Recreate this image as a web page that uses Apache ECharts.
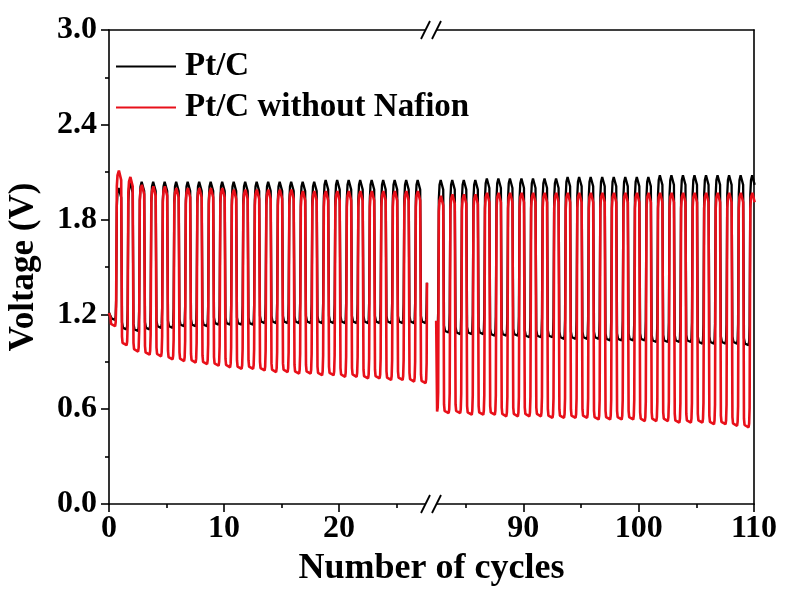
<!DOCTYPE html>
<html>
<head>
<meta charset="utf-8">
<script src="https://cdn.jsdelivr.net/npm/echarts@6/dist/echarts.min.js"></script>
<style>
  html, body { margin: 0; padding: 0; background: #fff; }
  #chart { width: 785px; height: 592px; }
</style>
</head>
<body>
<div id="chart"></div>
<script>
// Galvanostatic charge/discharge cycling, early run (cycles 0-27) and late run (cycles 82-110)
const seriesNames = ['Pt/C', 'Pt/C without Nafion'];

// Early run: first cycle index, voltage at start, last recorded voltage
const earlyFirstCycle = 0;
const earlyStartTime = 0;
const earlyStartPtc = 1.21;
const earlyStartNafion = 1.21;
const earlyEndV = 1.40;

// Per-cycle charge (top) and discharge (bottom) voltages, early run
const ptcChargeEarly = [2.00, 2.03, 2.04, 2.04, 2.04, 2.04, 2.04, 2.04, 2.04, 2.04, 2.04, 2.04, 2.04, 2.04,
  2.04, 2.04, 2.04, 2.04, 2.05, 2.05, 2.05, 2.05, 2.05, 2.05, 2.05, 2.05, 2.05];
const ptcDischargeEarly = [1.17, 1.11, 1.10, 1.11, 1.12, 1.12, 1.13, 1.13, 1.13, 1.14, 1.14, 1.14, 1.14, 1.15,
  1.15, 1.15, 1.15, 1.15, 1.15, 1.15, 1.15, 1.15, 1.15, 1.15, 1.15, 1.15, 1.15, 1.15];
const nafionChargeEarly = [2.11, 2.07, 2.02, 2.01, 2.01, 2.00, 2.00, 2.00, 2.00, 2.00, 1.99, 1.99, 1.99, 1.99,
  1.99, 1.99, 1.98, 1.98, 1.98, 1.98, 1.98, 1.98, 1.98, 1.98, 1.98, 1.98, 1.98];
const nafionDischargeEarly = [1.13, 1.01, 0.97, 0.95, 0.94, 0.92, 0.91, 0.90, 0.89, 0.88, 0.87, 0.86, 0.86, 0.85,
  0.84, 0.84, 0.83, 0.83, 0.82, 0.82, 0.81, 0.81, 0.80, 0.80, 0.79, 0.79, 0.78, 0.77];

// Late run
const lateFirstCycle = 82;
const lateStartTime = 82.45;
const lateStartPtc = 1.13;
const lateStartNafion = 1.16;

const ptcChargeLate = [2.05, 2.05, 2.05, 2.05, 2.06, 2.06, 2.06, 2.06, 2.06, 2.06, 2.06, 2.07, 2.07, 2.07,
  2.07, 2.07, 2.07, 2.07, 2.07, 2.08, 2.08, 2.08, 2.08, 2.08, 2.08, 2.08, 2.08, 2.08];
const ptcDischargeLate = [1.09, 1.09, 1.08, 1.08, 1.08, 1.07, 1.07, 1.07, 1.06, 1.06, 1.06, 1.05, 1.05, 1.05,
  1.05, 1.04, 1.04, 1.04, 1.04, 1.03, 1.03, 1.03, 1.03, 1.02, 1.02, 1.02, 1.02, 1.01];
const nafionChargeLate = [1.95, 1.96, 1.96, 1.96, 1.97, 1.97, 1.97, 1.97, 1.97, 1.97, 1.97, 1.97, 1.97, 1.97,
  1.97, 1.97, 1.97, 1.97, 1.97, 1.97, 1.97, 1.97, 1.97, 1.97, 1.97, 1.97, 1.97, 1.97];
const nafionDischargeLate = [0.59, 0.58, 0.58, 0.57, 0.57, 0.57, 0.56, 0.56, 0.56, 0.56, 0.55, 0.55, 0.55, 0.55,
  0.54, 0.54, 0.54, 0.54, 0.53, 0.53, 0.53, 0.52, 0.52, 0.52, 0.51, 0.51, 0.50, 0.49];

// Axis ticks
const earlyTicks = [0, 10, 20];
const earlyMinorTicks = [5, 15, 25];
const lateTicks = [90, 100, 110];
const lateMinorTicks = [85, 95, 105];
const earlyRange = [0, 28];
const lateRange = [82, 110];

// Shape of one cycle: [fraction of cycle, offset from the cycle's plateau voltage]
const PHASE = 0.1;
const nafionProfile = {
  discharge: [[0.03, 0.05], [0.08, 0.01], [0.25, 0], [0.43, -0.005], [0.48, 0.02], [0.52, 0.12]],
  charge: [[0.58, -0.10], [0.64, -0.03], [0.76, 0], [0.90, -0.01], [0.96, -0.06]]
};
const ptcProfile = {
  discharge: [[0.03, 0.04], [0.12, 0.005], [0.43, -0.005], [0.48, 0.02], [0.52, 0.12]],
  charge: [[0.58, -0.12], [0.64, -0.03], [0.74, 0], [0.90, -0.01], [0.96, -0.06]]
};

function buildTrace(firstCycle, tStart, vStart, charge, discharge, vEnd, profile) {
  const pts = [[tStart, vStart]];
  for (let i = 0; i < discharge.length; i++) {
    const base = firstCycle + i + PHASE;
    const d = discharge[i];
    profile.discharge.forEach(([dt, off]) => {
      const t = base + dt;
      if (t > tStart) pts.push([+t.toFixed(3), +(d + off).toFixed(3)]);
    });
    if (i < charge.length) {
      const c = charge[i];
      profile.charge.forEach(([dt, off]) => pts.push([+(base + dt).toFixed(3), +(c + off).toFixed(3)]));
    } else if (vEnd != null) {
      const last = profile.discharge[profile.discharge.length - 1][0];
      pts.push([+(base + last + 0.03).toFixed(3), vEnd]);
    }
  }
  return pts;
}

const FONT = "'Liberation Serif', 'Times New Roman', serif";
const BLACK = '#000000';
const RED = '#e8101a';

const chart = echarts.init(document.getElementById('chart'), null, { renderer: 'canvas' });

function bottomAxis(grid, range, ticks, showLabels, tickLen, showLine) {
  return {
    type: 'value', gridIndex: grid, position: 'bottom', min: range[0], max: range[1],
    axisLine: { show: showLine, onZero: false, lineStyle: { color: BLACK, width: 1.6 } },
    axisTick: { show: true, inside: false, length: tickLen, customValues: ticks, lineStyle: { color: BLACK, width: 1.6 } },
    axisLabel: showLabels ? {
      show: true, customValues: ticks, margin: 9, color: BLACK,
      fontFamily: FONT, fontWeight: 'bold', fontSize: 32
    } : { show: false },
    splitLine: { show: false }
  };
}
function topAxis(grid, range) {
  return {
    type: 'value', gridIndex: grid, position: 'top', min: range[0], max: range[1],
    axisLine: { show: true, onZero: false, lineStyle: { color: BLACK, width: 1.6 } },
    axisTick: { show: false }, axisLabel: { show: false }, splitLine: { show: false }
  };
}

const lineSeries = (name, xIdx, yIdx, color, width, data, z) => ({
  name, type: 'line', xAxisIndex: xIdx, yAxisIndex: yIdx, data,
  showSymbol: false, symbol: 'none', sampling: null, clip: true, z,
  lineStyle: { color, width }, itemStyle: { color }
});

chart.setOption({
  animation: false,
  backgroundColor: '#fff',
  grid: [
    { left: 109, top: 30, width: 322, height: 474 },
    { left: 431, top: 30, width: 323, height: 474 }
  ],
  legend: {
    data: seriesNames, orient: 'vertical', left: 111, top: 45,
    icon: 'rect', itemWidth: 60, itemHeight: 2, itemGap: 8,
    textStyle: { fontFamily: FONT, fontWeight: 'bold', fontSize: 33, color: BLACK, padding: [0, 0, 0, 4] }
  },
  xAxis: [
    bottomAxis(0, earlyRange, earlyTicks, true, 8, true),
    bottomAxis(0, earlyRange, earlyMinorTicks, false, 4, false),
    topAxis(0, earlyRange),
    bottomAxis(1, lateRange, lateTicks, true, 8, true),
    bottomAxis(1, lateRange, lateMinorTicks, false, 4, false),
    topAxis(1, lateRange)
  ],
  yAxis: [
    {
      type: 'value', gridIndex: 0, position: 'left', min: 0, max: 3, interval: 0.6,
      name: 'Voltage (V)', nameLocation: 'middle', nameRotate: 90, nameGap: 68,
      nameTextStyle: { fontFamily: FONT, fontWeight: 'bold', fontSize: 35, color: BLACK },
      axisLine: { show: true, onZero: false, lineStyle: { color: BLACK, width: 1.6 } },
      axisTick: { show: true, inside: false, length: 8, lineStyle: { color: BLACK, width: 1.6 } },
      minorTick: { show: true, splitNumber: 2, length: 4, lineStyle: { color: BLACK, width: 1.6 } },
      axisLabel: {
        show: true, margin: 12, color: BLACK, fontFamily: FONT, fontWeight: 'bold', fontSize: 32,
        formatter: v => v.toFixed(1)
      },
      splitLine: { show: false }, minorSplitLine: { show: false }
    },
    {
      type: 'value', gridIndex: 1, position: 'right', min: 0, max: 3, interval: 0.6,
      axisLine: { show: true, onZero: false, lineStyle: { color: BLACK, width: 1.6 } },
      axisTick: { show: false }, axisLabel: { show: false }, splitLine: { show: false }
    }
  ],
  series: [
    lineSeries(seriesNames[0], 0, 0, BLACK, 2.3,
      buildTrace(earlyFirstCycle, earlyStartTime, earlyStartPtc, ptcChargeEarly, ptcDischargeEarly, earlyEndV, ptcProfile), 2),
    lineSeries(seriesNames[1], 0, 0, RED, 2.6,
      buildTrace(earlyFirstCycle, earlyStartTime, earlyStartNafion, nafionChargeEarly, nafionDischargeEarly, earlyEndV, nafionProfile), 3),
    lineSeries(seriesNames[0], 3, 1, BLACK, 2.3,
      buildTrace(lateFirstCycle, lateStartTime, lateStartPtc, ptcChargeLate, ptcDischargeLate, null, ptcProfile), 2),
    lineSeries(seriesNames[1], 3, 1, RED, 2.6,
      buildTrace(lateFirstCycle, lateStartTime, lateStartNafion, nafionChargeLate, nafionDischargeLate, null, nafionProfile), 3)
  ]
});

// Axis break marks "//" on the top and bottom frame, plus the shared x-axis title
const breakX = chart.convertToPixel({ xAxisIndex: 0 }, earlyRange[1]);
const yBottom = chart.convertToPixel({ yAxisIndex: 0 }, 0);
const yTop = chart.convertToPixel({ yAxisIndex: 0 }, 3);
const xLeft = chart.convertToPixel({ xAxisIndex: 0 }, earlyRange[0]);
const xRight = chart.convertToPixel({ xAxisIndex: 3 }, lateRange[1]);

function breakMark(y) {
  const slash = (cx) => ({
    type: 'line', silent: true, z: 101,
    shape: { x1: cx - 4.5, y1: y + 9, x2: cx + 4.5, y2: y - 9 },
    style: { stroke: BLACK, lineWidth: 1.8 }
  });
  return [
    { type: 'rect', silent: true, z: 100, shape: { x: breakX - 6, y: y - 3, width: 12, height: 6 }, style: { fill: '#fff' } },
    slash(breakX - 5.5),
    slash(breakX + 5.5)
  ];
}

chart.setOption({
  graphic: [
    ...breakMark(yTop),
    ...breakMark(yBottom),
    {
      type: 'text', silent: true, x: (xLeft + xRight) / 2, y: 569,
      style: {
        text: 'Number of cycles', fill: BLACK, font: "bold 36px " + FONT,
        textAlign: 'center', textVerticalAlign: 'middle'
      }
    }
  ]
});
</script>
</body>
</html>
